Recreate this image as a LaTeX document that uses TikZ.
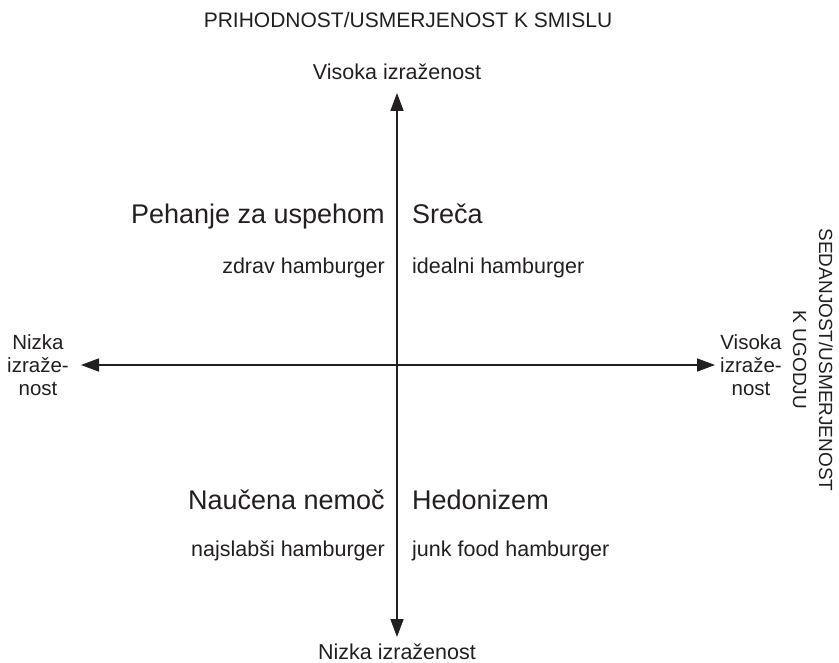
\documentclass[tikz,border=0pt]{standalone}
\usepackage{fontspec}
\setmainfont{Liberation Sans}
\usetikzlibrary{arrows.meta,positioning}
\definecolor{inkgray}{RGB}{35,31,32}

\begin{document}
\begin{tikzpicture}[x=1pt, y=-1pt,
    axis/.style={{Triangle[length=18pt,width=13pt]}-{Triangle[length=18pt,width=13pt]},
                 line width=1.6pt, draw=inkgray},
    lbl/.style={font=\fontsize{21.5}{23}\selectfont, text=inkgray, inner sep=0pt, align=center},
    big/.style={font=\fontsize{27}{30}\selectfont, text=inkgray, inner sep=0pt},
    endlbl/.style={lbl, font=\fontsize{20.5}{23}\selectfont}]

    \useasboundingbox (0,0) rectangle (839,663);

    \node[lbl, font=\fontsize{21}{23}\selectfont] (title) at (408,20) {PRIHODNOST/USMERJENOST K SMISLU};
    \node[lbl] (hi) at (397,72) {Visoka izraženost};
    \node[lbl, anchor=base] (lo) at (397,659) {Nizka izraženost};
    \node[endlbl] (left) at (38,365) {Nizka\\izraže-\\nost};
    \node[endlbl] (right) at (751,365) {Visoka\\izraže-\\nost};
    \node[lbl, rotate=-90, font=\fontsize{19}{26}\selectfont] (side) at (813,360) {SEDANJOST/USMERJENOST\\K UGODJU};

    \coordinate (ntop) at (397,93);
    \coordinate (nbot) at (397,637);
    \coordinate (nleft) at (81,365);
    \coordinate (nright) at (715,365);

    \draw[axis] (nbot) -- (ntop);
    \draw[axis] (nleft) -- (nright);

    \node[big, anchor=base east] (pehanje) at (385,224) {Pehanje za uspehom};
    \node[big, anchor=base west] (sreca) at (412,224) {Sreča};
    \node[lbl, anchor=base east] (zdrav) at (385,274) {zdrav hamburger};
    \node[lbl, anchor=base west] (ideal) at (412,274) {idealni hamburger};

    \node[big, anchor=base east] (naucena) at (385,509) {Naučena nemoč};
    \node[big, anchor=base west] (hedon) at (412,509) {Hedonizem};
    \node[lbl, anchor=base east] (najslab) at (385,556) {najslabši hamburger};
    \node[lbl, anchor=base west] (junk) at (412,556) {junk food hamburger};
\end{tikzpicture}
\end{document}
